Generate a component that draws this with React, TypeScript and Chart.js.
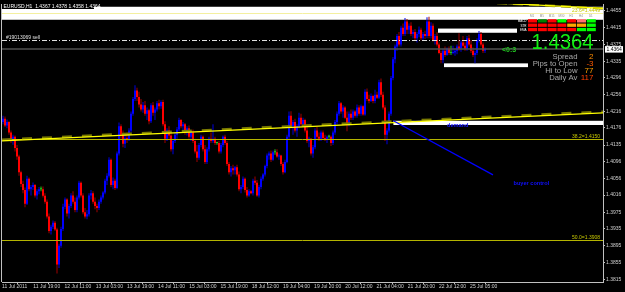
import { useEffect, useRef } from "react";
import { Chart, registerables } from "chart.js";
Chart.register(...registerables);

// ---- EURUSD H1 bars (11 Jul 2011 -> 25 Jul 2011) ----
const opens = [
  1.4190, 1.4198, 1.4182, 1.4190, 1.4165, 1.4148, 1.4155, 1.4128, 1.4108, 1.4070,
  1.4042, 1.4028, 1.3995, 1.4055, 1.4030, 1.4035, 1.4040, 1.4015, 1.4025, 1.4030,
  1.4030, 1.4014, 1.4000, 1.3965, 1.3930, 1.3940, 1.3950, 1.3934, 1.3850, 1.3895,
  1.3935, 1.3988, 1.4005, 1.3972, 1.3990, 1.4015, 1.4000, 1.3980, 1.4010, 1.4045,
  1.4015, 1.3975, 1.3965, 1.3970, 1.4015, 1.4020, 1.4000, 1.3990, 1.3985, 1.4000,
  1.4010, 1.4022, 1.4050, 1.4062, 1.4100, 1.4040, 1.4050, 1.4033, 1.4115, 1.4180,
  1.4160, 1.4138, 1.4152, 1.4148, 1.4170, 1.4210, 1.4245, 1.4265, 1.4250, 1.4232,
  1.4220, 1.4230, 1.4210, 1.4218, 1.4192, 1.4230, 1.4212, 1.4220, 1.4235, 1.4228,
  1.4238, 1.4185, 1.4150, 1.4170, 1.4158, 1.4125, 1.4145, 1.4160, 1.4172, 1.4195,
  1.4180, 1.4185, 1.4165, 1.4175, 1.4155, 1.4165, 1.4145, 1.4120, 1.4105, 1.4135,
  1.4155, 1.4125, 1.4095, 1.4125, 1.4150, 1.4145, 1.4150, 1.4140, 1.4140, 1.4120,
  1.4135, 1.4155, 1.4140, 1.4090, 1.4070, 1.4080, 1.4075, 1.4082, 1.4065, 1.4030,
  1.4035, 1.4055, 1.4028, 1.4015, 1.4025, 1.4020, 1.4050, 1.4045, 1.4015, 1.4035,
  1.4055, 1.4065, 1.4085, 1.4110, 1.4115, 1.4100, 1.4118, 1.4118, 1.4108, 1.4110,
  1.4090, 1.4070, 1.4095, 1.4155, 1.4205, 1.4180, 1.4190, 1.4170, 1.4180, 1.4200,
  1.4185, 1.4195, 1.4170, 1.4145, 1.4150, 1.4115, 1.4130, 1.4170, 1.4155, 1.4150,
  1.4165, 1.4152, 1.4148, 1.4155, 1.4155, 1.4140, 1.4165, 1.4190, 1.4210, 1.4235,
  1.4215, 1.4225, 1.4200, 1.4185, 1.4210, 1.4200, 1.4215, 1.4205, 1.4225, 1.4210,
  1.4228, 1.4208, 1.4262, 1.4245, 1.4240, 1.4252, 1.4240, 1.4255, 1.4248, 1.4285,
  1.4255, 1.4225, 1.4160, 1.4170, 1.4210, 1.4295, 1.4340, 1.4370, 1.4395, 1.4375,
  1.4415, 1.4400, 1.4430, 1.4410, 1.4420, 1.4400, 1.4405, 1.4390, 1.4400, 1.4410,
  1.4390, 1.4400, 1.4395, 1.4430, 1.4395, 1.4420, 1.4385, 1.4395, 1.4375, 1.4355,
  1.4338, 1.4360, 1.4350, 1.4365, 1.4355, 1.4355, 1.4356, 1.4360, 1.4370, 1.4365,
  1.4380, 1.4372, 1.4365, 1.4390, 1.4375, 1.4360, 1.4350, 1.4355, 1.4385, 1.4400,
  1.4375, 1.4360,
];
const highs = [
  1.4205, 1.4203, 1.4196, 1.4192, 1.4170, 1.4160, 1.4158, 1.4135, 1.4112, 1.4074,
  1.4050, 1.4034, 1.4062, 1.4058, 1.4040, 1.4046, 1.4042, 1.4030, 1.4035, 1.4036,
  1.4036, 1.4020, 1.4005, 1.3972, 1.3945, 1.3955, 1.3954, 1.3938, 1.3900, 1.3940,
  1.3995, 1.4010, 1.4008, 1.3995, 1.4020, 1.4025, 1.4010, 1.4015, 1.4050, 1.4048,
  1.4020, 1.3985, 1.3980, 1.4020, 1.4028, 1.4025, 1.4010, 1.3995, 1.4005, 1.4015,
  1.4025, 1.4055, 1.4068, 1.4106, 1.4103, 1.4058, 1.4055, 1.4120, 1.4189, 1.4185,
  1.4170, 1.4160, 1.4165, 1.4175, 1.4215, 1.4250, 1.4278, 1.4272, 1.4262, 1.4245,
  1.4238, 1.4240, 1.4225, 1.4222, 1.4235, 1.4238, 1.4225, 1.4240, 1.4243, 1.4242,
  1.4243, 1.4192, 1.4175, 1.4180, 1.4165, 1.4150, 1.4165, 1.4178, 1.4200, 1.4197,
  1.4190, 1.4188, 1.4180, 1.4182, 1.4170, 1.4172, 1.4150, 1.4135, 1.4140, 1.4160,
  1.4158, 1.4135, 1.4130, 1.4155, 1.4165, 1.4185, 1.4155, 1.4143, 1.4145, 1.4140,
  1.4158, 1.4160, 1.4145, 1.4095, 1.4085, 1.4088, 1.4085, 1.4088, 1.4072, 1.4040,
  1.4060, 1.4058, 1.4035, 1.4030, 1.4028, 1.4055, 1.4060, 1.4052, 1.4040, 1.4060,
  1.4068, 1.4088, 1.4115, 1.4120, 1.4122, 1.4122, 1.4125, 1.4125, 1.4115, 1.4112,
  1.4095, 1.4100, 1.4160, 1.4215, 1.4216, 1.4195, 1.4198, 1.4185, 1.4212, 1.4210,
  1.4200, 1.4198, 1.4180, 1.4155, 1.4152, 1.4135, 1.4175, 1.4178, 1.4165, 1.4170,
  1.4170, 1.4160, 1.4158, 1.4160, 1.4158, 1.4170, 1.4195, 1.4215, 1.4240, 1.4238,
  1.4230, 1.4228, 1.4215, 1.4215, 1.4220, 1.4220, 1.4218, 1.4232, 1.4230, 1.4232,
  1.4230, 1.4268, 1.4270, 1.4255, 1.4258, 1.4255, 1.4267, 1.4262, 1.4291, 1.4294,
  1.4262, 1.4230, 1.4175, 1.4215, 1.4300, 1.4345, 1.4375, 1.4400, 1.4405, 1.4420,
  1.4425, 1.4438, 1.4436, 1.4425, 1.4428, 1.4410, 1.4412, 1.4405, 1.4418, 1.4415,
  1.4405, 1.4408, 1.4440, 1.4441, 1.4428, 1.4425, 1.4400, 1.4405, 1.4380, 1.4360,
  1.4365, 1.4370, 1.4368, 1.4370, 1.4372, 1.4372, 1.4365, 1.4375, 1.4402, 1.4385,
  1.4395, 1.4380, 1.4395, 1.4398, 1.4385, 1.4368, 1.4360, 1.4390, 1.4407, 1.4405,
  1.4380, 1.4368,
];
const lows = [
  1.4185, 1.4178, 1.4175, 1.4160, 1.4140, 1.4136, 1.4120, 1.4100, 1.4062, 1.4035,
  1.4020, 1.3987, 1.3992, 1.4025, 1.4015, 1.4028, 1.4010, 1.4005, 1.4018, 1.4025,
  1.4010, 1.3995, 1.3960, 1.3925, 1.3922, 1.3935, 1.3930, 1.3829, 1.3842, 1.3890,
  1.3930, 1.3982, 1.3965, 1.3960, 1.3985, 1.3995, 1.3975, 1.3975, 1.4005, 1.4010,
  1.3970, 1.3960, 1.3958, 1.3965, 1.4005, 1.3995, 1.3982, 1.3975, 1.3980, 1.3995,
  1.4005, 1.4018, 1.4040, 1.4058, 1.4035, 1.4030, 1.4028, 1.4030, 1.4110, 1.4150,
  1.4130, 1.4128, 1.4140, 1.4145, 1.4165, 1.4205, 1.4240, 1.4240, 1.4225, 1.4215,
  1.4212, 1.4205, 1.4195, 1.4185, 1.4188, 1.4205, 1.4195, 1.4215, 1.4220, 1.4222,
  1.4180, 1.4140, 1.4145, 1.4150, 1.4120, 1.4113, 1.4140, 1.4150, 1.4168, 1.4175,
  1.4165, 1.4160, 1.4158, 1.4150, 1.4145, 1.4140, 1.4115, 1.4095, 1.4100, 1.4130,
  1.4120, 1.4090, 1.4090, 1.4120, 1.4140, 1.4140, 1.4135, 1.4136, 1.4115, 1.4115,
  1.4130, 1.4135, 1.4085, 1.4065, 1.4060, 1.4065, 1.4065, 1.4060, 1.4025, 1.4020,
  1.4030, 1.4022, 1.4010, 1.4012, 1.4018, 1.4015, 1.4040, 1.4012, 1.4010, 1.4030,
  1.4050, 1.4060, 1.4080, 1.4100, 1.4095, 1.4098, 1.4112, 1.4105, 1.4100, 1.4085,
  1.4065, 1.4068, 1.4092, 1.4150, 1.4175, 1.4160, 1.4165, 1.4155, 1.4175, 1.4180,
  1.4178, 1.4165, 1.4140, 1.4130, 1.4110, 1.4105, 1.4125, 1.4150, 1.4145, 1.4145,
  1.4148, 1.4145, 1.4140, 1.4150, 1.4133, 1.4135, 1.4160, 1.4185, 1.4205, 1.4210,
  1.4200, 1.4198, 1.4168, 1.4180, 1.4195, 1.4195, 1.4200, 1.4200, 1.4205, 1.4205,
  1.4205, 1.4205, 1.4240, 1.4235, 1.4238, 1.4235, 1.4235, 1.4245, 1.4245, 1.4250,
  1.4220, 1.4145, 1.4137, 1.4165, 1.4205, 1.4290, 1.4330, 1.4360, 1.4370, 1.4370,
  1.4395, 1.4395, 1.4400, 1.4400, 1.4395, 1.4390, 1.4385, 1.4380, 1.4392, 1.4385,
  1.4385, 1.4388, 1.4390, 1.4390, 1.4390, 1.4382, 1.4375, 1.4370, 1.4352, 1.4330,
  1.4330, 1.4345, 1.4348, 1.4350, 1.4350, 1.4352, 1.4348, 1.4352, 1.4360, 1.4358,
  1.4368, 1.4360, 1.4360, 1.4370, 1.4355, 1.4345, 1.4330, 1.4350, 1.4380, 1.4370,
  1.4355, 1.4355,
];
const closes = [
  1.4198, 1.4182, 1.4190, 1.4165, 1.4148, 1.4155, 1.4128, 1.4108, 1.4070, 1.4042,
  1.4028, 1.3995, 1.4055, 1.4030, 1.4035, 1.4040, 1.4015, 1.4025, 1.4030, 1.4030,
  1.4014, 1.4000, 1.3965, 1.3930, 1.3940, 1.3950, 1.3934, 1.3850, 1.3895, 1.3935,
  1.3988, 1.4005, 1.3972, 1.3990, 1.4015, 1.4000, 1.3980, 1.4010, 1.4045, 1.4015,
  1.3975, 1.3965, 1.3970, 1.4015, 1.4020, 1.4000, 1.3990, 1.3985, 1.4000, 1.4010,
  1.4022, 1.4050, 1.4062, 1.4100, 1.4040, 1.4050, 1.4033, 1.4115, 1.4180, 1.4160,
  1.4138, 1.4152, 1.4148, 1.4170, 1.4210, 1.4245, 1.4265, 1.4250, 1.4232, 1.4220,
  1.4230, 1.4210, 1.4218, 1.4192, 1.4230, 1.4212, 1.4220, 1.4235, 1.4228, 1.4238,
  1.4185, 1.4150, 1.4170, 1.4158, 1.4125, 1.4145, 1.4160, 1.4172, 1.4195, 1.4180,
  1.4185, 1.4165, 1.4175, 1.4155, 1.4165, 1.4145, 1.4120, 1.4105, 1.4135, 1.4155,
  1.4125, 1.4095, 1.4125, 1.4150, 1.4145, 1.4150, 1.4140, 1.4140, 1.4120, 1.4135,
  1.4155, 1.4140, 1.4090, 1.4070, 1.4080, 1.4075, 1.4082, 1.4065, 1.4030, 1.4035,
  1.4055, 1.4028, 1.4015, 1.4025, 1.4020, 1.4050, 1.4045, 1.4015, 1.4035, 1.4055,
  1.4065, 1.4085, 1.4110, 1.4115, 1.4100, 1.4118, 1.4118, 1.4108, 1.4110, 1.4090,
  1.4070, 1.4095, 1.4155, 1.4205, 1.4180, 1.4190, 1.4170, 1.4180, 1.4200, 1.4185,
  1.4195, 1.4170, 1.4145, 1.4150, 1.4115, 1.4130, 1.4170, 1.4155, 1.4150, 1.4165,
  1.4152, 1.4148, 1.4155, 1.4155, 1.4140, 1.4165, 1.4190, 1.4210, 1.4235, 1.4215,
  1.4225, 1.4200, 1.4185, 1.4210, 1.4200, 1.4215, 1.4205, 1.4225, 1.4210, 1.4228,
  1.4208, 1.4262, 1.4245, 1.4240, 1.4252, 1.4240, 1.4255, 1.4248, 1.4285, 1.4255,
  1.4225, 1.4160, 1.4170, 1.4210, 1.4295, 1.4340, 1.4370, 1.4395, 1.4375, 1.4415,
  1.4400, 1.4430, 1.4410, 1.4420, 1.4400, 1.4405, 1.4390, 1.4400, 1.4410, 1.4390,
  1.4400, 1.4395, 1.4430, 1.4395, 1.4420, 1.4385, 1.4395, 1.4375, 1.4355, 1.4338,
  1.4360, 1.4350, 1.4365, 1.4355, 1.4355, 1.4356, 1.4360, 1.4370, 1.4365, 1.4380,
  1.4372, 1.4365, 1.4390, 1.4375, 1.4360, 1.4350, 1.4355, 1.4385, 1.4400, 1.4375,
  1.4360, 1.4364,
];

// ---- axes ----
const xTickLabels = [
  "11 Jul 2011", "11 Jul 19:00", "12 Jul 11:00", "13 Jul 03:00", "13 Jul 19:00",
  "14 Jul 11:00", "15 Jul 03:00", "15 Jul 19:00", "18 Jul 12:00", "19 Jul 04:00",
  "19 Jul 20:00", "20 Jul 12:00", "21 Jul 04:00", "21 Jul 20:00", "22 Jul 12:00",
  "25 Jul 05:00",
];
const xTickFirstBar = -0.45;
const xTickBarStep = 15.6;
const xRange = [-0.5, 300];
const yTickValues = [
  1.4455, 1.4415, 1.4375, 1.4335, 1.4296, 1.4256, 1.4216, 1.4176, 1.4135,
  1.4096, 1.4056, 1.4016, 1.3975, 1.3935, 1.3895, 1.3855, 1.3815,
];
const yRange = [1.38085, 1.44716];

// ---- objects ----
const titleText = "EURUSD,H1  1.4367 1.4378 1.4358 1.4364";
const bidPrice = 1.4364;
const orderPrice = 1.4386;
const orderText = "#19013069 sell";
const fibPrices = [1.4150, 1.3908];
const fibTexts = ["38.2=1.4150", "50.0=1.3908"];
const topFibPrice = 1.4449;
const topFibText = "23.6=1.4449";
// white zones: [fromBar, toBar, highPrice, lowPrice]
const whiteZones = [
  [-0.5, 300, 1.4465, 1.4434],
  [217.5, 257, 1.4413, 1.4403],
  [220.5, 262.5, 1.4330, 1.4321],
  [195.2, 300, 1.4193, 1.4183],
];
const yellowTrend = [[-0.5, 1.4145], [300, 1.4212]];
const oliveTrend = [[-0.5, 1.4148], [300, 1.4215]];
const topTrend = [[247, 1.4474], [300, 1.4461]];
const buyerLine = [[195.2, 1.4193], [245, 1.4064]];
const spreadValue = "2";
const pipsToOpen = "-3";
const hiToLow = "77";
const dailyAv = "117";
const ratioText = "<0:3";
const tableCols = ["M1", "M5", "M15", "M30", "H1", "H4", "D1"];
const tableRows = ["MACD", "STR", "EMA"];
const tableColors = [
  ["#ff0000", "#008000", "#ff0000", "#00ff00", "#ff0000", "#ff7070", "#00ff00"],
  ["#ff0000", "#ff0000", "#ff0000", "#ff0000", "#ffa500", "#ffa500", "#00ff00"],
  ["#ff0000", "#ff0000", "#ff0000", "#ff0000", "#ff0000", "#00ff00", "#00ff00"],
];

const FONT = '"Liberation Sans", Arial, sans-serif';

function txt(ctx: CanvasRenderingContext2D, s: string, x: number, y: number, font: string, color: string, align: CanvasTextAlign = "left", sx = 1) {
  ctx.save();
  ctx.font = font;
  ctx.fillStyle = color;
  ctx.textAlign = align;
  ctx.textBaseline = "alphabetic";
  ctx.translate(x, y);
  ctx.scale(sx, 1);
  ctx.fillText(s, 0, 0);
  ctx.restore();
}

const overlay = {
  id: "mt4overlay",
  beforeDatasetsDraw(chart: any) {
    const { ctx, chartArea: a, scales } = chart;
    const xs = scales.x, ys = scales.y;
    ctx.save();
    ctx.beginPath();
    ctx.rect(a.left, a.top, a.right - a.left, a.bottom - a.top);
    ctx.clip();
    ctx.fillStyle = "#ffffff";
    for (const z of whiteZones) {
      const x0 = xs.getPixelForValue(z[0]);
      const x1 = xs.getPixelForValue(z[1]);
      const y0 = ys.getPixelForValue(z[2]);
      const y1 = ys.getPixelForValue(z[3]);
      ctx.fillRect(x0, y0, x1 - x0, y1 - y0);
    }
    // 23.6 level, pale over the white zone
    const yt = Math.round(ys.getPixelForValue(topFibPrice)) + 0.5;
    ctx.strokeStyle = "#f4f0a0";
    ctx.lineWidth = 1;
    ctx.beginPath();
    ctx.moveTo(a.left, yt);
    ctx.lineTo(a.right, yt);
    ctx.stroke();
    ctx.restore();
  },
  afterDatasetsDraw(chart: any) {
    const { ctx, chartArea: a, scales } = chart;
    const xs = scales.x, ys = scales.y;
    const px = (v: number) => xs.getPixelForValue(v);
    const py = (v: number) => ys.getPixelForValue(v);
    ctx.save();
    ctx.beginPath();
    ctx.rect(a.left, a.top, a.right - a.left, a.bottom - a.top);
    ctx.clip();

    const seg = (p: number[][], color: string, w: number, dash: number[] = []) => {
      ctx.beginPath();
      ctx.setLineDash(dash);
      ctx.strokeStyle = color;
      ctx.lineWidth = w;
      ctx.moveTo(px(p[0][0]), py(p[0][1]));
      ctx.lineTo(px(p[1][0]), py(p[1][1]));
      ctx.stroke();
      ctx.setLineDash([]);
    };

    // fibonacci levels
    fibPrices.forEach((p, k) => {
      const y = Math.round(py(p)) + 0.5;
      ctx.beginPath();
      ctx.strokeStyle = "#b4b400";
      ctx.lineWidth = 1;
      ctx.moveTo(a.left, y);
      ctx.lineTo(a.right, y);
      ctx.stroke();
      txt(ctx, fibTexts[k], a.right - 3, y - 1.5, `5px ${FONT}`, "#c8c800", "right");
    });
    txt(ctx, topFibText, a.right - 3, Math.round(py(topFibPrice)) - 1.5, `5px ${FONT}`, "#c8c800", "right");

    // bid line
    {
      const y = py(bidPrice);
      ctx.beginPath();
      ctx.strokeStyle = "#505050";
      ctx.lineWidth = 1.5;
      ctx.moveTo(a.left, y);
      ctx.lineTo(a.right, y);
      ctx.stroke();
    }
    // order line
    {
      const y = Math.round(py(orderPrice)) + 0.5;
      ctx.beginPath();
      ctx.setLineDash([5, 2, 1, 2]);
      ctx.strokeStyle = "#e0e0e0";
      ctx.lineWidth = 1;
      ctx.moveTo(a.left, y);
      ctx.lineTo(a.right, y);
      ctx.stroke();
      ctx.setLineDash([]);
      txt(ctx, orderText, a.left + 4, y - 2, `5px ${FONT}`, "#e0e0e0");
    }

    // trend lines
    seg(oliveTrend, "#7a7a00", 2.4, [10, 10]);
    seg(yellowTrend, "#ffff00", 1.2);
    seg(topTrend, "#8c8c00", 2.4, [10, 6]);
    seg(topTrend, "#ffff00", 1.2);
    seg(buyerLine, "#0000ff", 1.3);

    txt(ctx, "demand", 447, 127.3, `bold 5.6px ${FONT}`, "#1010ff");
    txt(ctx, "buyer control", 513.5, 184.5, `bold 5.6px ${FONT}`, "#1010ff");
    txt(ctx, ratioText, 502, 52.3, `bold 7px ${FONT}`, "#22cc22");

    // big price
    txt(ctx, bidPrice.toFixed(4), 593.5, 49.3, `22px ${FONT}`, "#11ee11", "right", 0.92);

    // info block
    const labels = ["Spread", "Pips to Open", "Hi to Low", "Daily Av"];
    const vals = [spreadValue, pipsToOpen, hiToLow, dailyAv];
    const valColors = ["#ff8c00", "#ff5a00", "#ffa000", "#ff4000"];
    const base = [58.6, 65.8, 73.2, 80.4];
    labels.forEach((l, k) => {
      txt(ctx, l, 577.5, base[k], `8px ${FONT}`, "#a8a8a8", "right", 0.97);
      txt(ctx, vals[k], 593.5, base[k], `8px ${FONT}`, valColors[k], "right");
    });

    // indicator table
    tableCols.forEach((c, j) => {
      txt(ctx, c, 532 + j * 9.8, 16.5, `3px ${FONT}`, "#909090", "center");
    });
    tableRows.forEach((r, i) => {
      txt(ctx, r, 526.5, 22.2 + i * 4.35, `3px ${FONT}`, "#ffffff", "right");
      tableColors[i].forEach((col, j) => {
        ctx.fillStyle = col;
        ctx.fillRect(528 + j * 9.8, 19.2 + i * 4.35, 9, 3.3);
      });
    });

    ctx.restore();

    // title
    ctx.save();
    ctx.fillStyle = "#000000";
    ctx.fillRect(a.left, 2, 92, 7);
    txt(ctx, titleText, a.left + 1.5, 8, `5px ${FONT}`, "#ffffff");
    ctx.restore();

    // left frame
    ctx.save();
    ctx.strokeStyle = "#c0c0c0";
    ctx.lineWidth = 1;
    ctx.beginPath();
    ctx.moveTo(a.left - 0.5, a.top);
    ctx.lineTo(a.left - 0.5, a.bottom);
    ctx.stroke();
    // current price box on axis
    const yb = py(bidPrice);
    ctx.fillStyle = "#ffffff";
    ctx.fillRect(a.right + 2, yb - 3, 18, 6.5);
    txt(ctx, bidPrice.toFixed(4), a.right + 3.5, yb + 2, `5px ${FONT}`, "#000000");
    ctx.restore();
  },
};

export default function App() {
  const ref = useRef<HTMLCanvasElement>(null);
  useEffect(() => {
    const canvas = ref.current!;
    const n = closes.length;
    const idx = Array.from({ length: n }, (_, i) => i);
    const bodyColors = idx.map((i) =>
      closes[i] > opens[i] ? "#0000ff" : closes[i] < opens[i] ? "#ff0000" : "#1ec81e"
    );
    const wickColors = idx.map((i) =>
      closes[i] > opens[i] ? "#0000dd" : closes[i] < opens[i] ? "#a00000" : "#1ec81e"
    );
    const chart = new Chart(canvas, {
      type: "bar",
      data: {
        datasets: [
          {
            label: "wick",
            data: idx.map((i) => ({ x: i, y: [lows[i], highs[i]] })) as any,
            backgroundColor: wickColors,
            barThickness: 1,
            grouped: false,
            inflateAmount: 0,
            borderWidth: 0,
            order: 2,
          } as any,
          {
            label: "body",
            data: idx.map((i) => ({
              x: i,
              y: [Math.min(opens[i], closes[i]), Math.max(opens[i], closes[i])],
            })) as any,
            backgroundColor: bodyColors,
            barThickness: 2,
            minBarLength: 1,
            grouped: false,
            inflateAmount: 0,
            borderWidth: 0,
            order: 1,
          } as any,
        ],
      },
      options: {
        responsive: false,
        animation: false,
        devicePixelRatio: 1,
        layout: { padding: { left: 2, top: 2, right: 0, bottom: 0 } },
        plugins: { legend: { display: false }, tooltip: { enabled: false } },
        scales: {
          x: {
            type: "linear",
            min: xRange[0],
            max: xRange[1],
            offset: false,
            afterFit: (s: any) => {
              s.height = 10;
            },
            afterBuildTicks: (s: any) => {
              s.ticks = xTickLabels.map((_, k) => ({ value: xTickFirstBar + k * xTickBarStep }));
            },
            ticks: {
              autoSkip: false,
              maxRotation: 0,
              minRotation: 0,
              align: "start",
              padding: 0,
              color: "#d0d0d0",
              font: { family: FONT, size: 5 },
              callback: (_v: any, i: number) => xTickLabels[i],
            },
            grid: { display: true, drawOnChartArea: false, drawTicks: true, tickLength: 2, color: "#c0c0c0" },
            border: { display: true, color: "#c0c0c0" },
          },
          y: {
            type: "linear",
            position: "right",
            min: yRange[0],
            max: yRange[1],
            afterFit: (s: any) => {
              s.width = 22;
            },
            afterBuildTicks: (s: any) => {
              s.ticks = yTickValues.map((v) => ({ value: v }));
            },
            ticks: {
              padding: 1,
              color: "#d0d0d0",
              font: { family: FONT, size: 5 },
              callback: (v: any) => Number(v).toFixed(4),
            },
            grid: { display: true, drawOnChartArea: false, drawTicks: true, tickLength: 2, color: "#c0c0c0" },
            border: { display: true, color: "#c0c0c0" },
          },
        },
      } as any,
      plugins: [overlay],
    });
    return () => chart.destroy();
  }, []);
  return (
    <div style={{ position: "fixed", left: 0, top: 0, width: 625, height: 292, background: "#000000" }}>
      <canvas ref={ref} width={625} height={292} style={{ display: "block", width: 625, height: 292 }} />
    </div>
  );
}
